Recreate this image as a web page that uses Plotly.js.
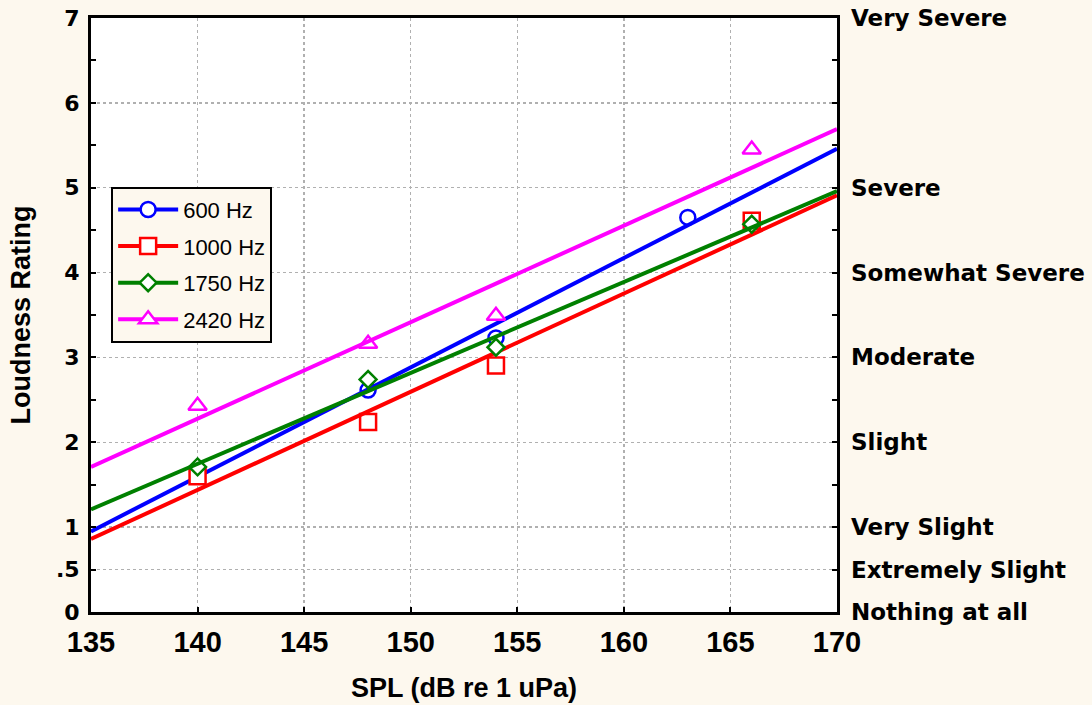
<!DOCTYPE html>
<html>
<head>
<meta charset="utf-8">
<script src="https://cdn.plot.ly/plotly-3.0.1.min.js"></script>
<style>
  html, body { margin: 0; padding: 0; background: #fdf8ee; }
  #chart { width: 1092px; height: 705px; }
</style>
</head>
<body>
<div id="chart"></div>
<script>
// Loudness ratings by sound pressure level, one series per tone frequency
const seriesNames = ['600 Hz', '1000 Hz', '1750 Hz', '2420 Hz'];
const seriesColors = ['#0000ff', '#ff0000', '#008000', '#ff00ff'];
const seriesSymbols = ['circle', 'square', 'diamond', 'triangle-up'];
const seriesSizes = [15, 16, 13, 16];

const spl600 = [140, 148, 154, 163];
const rating600 = [1.66, 2.615, 3.23, 4.65];
const spl1000 = [140, 148, 154, 166];
const rating1000 = [1.60, 2.24, 2.905, 4.61];
const spl1750 = [140, 148, 154, 166];
const rating1750 = [1.71, 2.74, 3.12, 4.57];
const spl2420 = [140, 148, 154, 166];
const rating2420 = [2.43, 3.16, 3.49, 5.45];

// Linear fit lines, evaluated at the ends of the SPL axis
const fitSpl = [135, 170];
const fit600 = [0.95, 5.46];
const fit1000 = [0.86, 4.91];
const fit1750 = [1.21, 4.96];
const fit2420 = [1.71, 5.69];

// Axis ticks and rating scale
const splTicks = [135, 140, 145, 150, 155, 160, 165, 170];
const ratingTicks = [0, 0.5, 1, 2, 3, 4, 5, 6, 7];
const ratingTickText = ['0', '.5', '1', '2', '3', '4', '5', '6', '7'];
const ratingMinorTicks = [1.5, 2.5, 3.5, 4.5, 5.5, 6.5];
const scaleTicks = [0, 0.5, 1, 2, 3, 4, 5, 7];
const scaleLabels = ['Nothing at all', 'Extremely Slight', 'Very Slight', 'Slight',
                     'Moderate', 'Somewhat Severe', 'Severe', 'Very Severe'];
const scaleMinorTicks = [1.5, 2.5, 3.5, 4.5, 5.5, 6, 6.5];

const pointSets = [[spl600, rating600], [spl1000, rating1000], [spl1750, rating1750], [spl2420, rating2420]];
const fitSets = [fit600, fit1000, fit1750, fit2420];

const titleBold = { family: 'Liberation Sans, Arial, sans-serif', weight: 'bold', color: '#000' };
const wideBold = { family: 'DejaVu Sans, Verdana, sans-serif', weight: 'bold', color: '#000' };

const traces = [];
seriesNames.forEach((name, i) => {
  traces.push({
    x: pointSets[i][0], y: pointSets[i][1],
    type: 'scatter', mode: 'markers', showlegend: false, hoverinfo: 'x+y',
    marker: { symbol: seriesSymbols[i], size: seriesSizes[i], color: '#ffffff',
              line: { color: seriesColors[i], width: 2.5 } }
  });
  traces.push({
    x: fitSpl, y: fitSets[i],
    type: 'scatter', mode: 'lines', showlegend: false, hoverinfo: 'skip',
    line: { color: seriesColors[i], width: 4 }
  });
});
// legend entries
seriesNames.forEach((name, i) => {
  traces.push({
    x: [null], y: [null], name: name, legendgroup: name,
    type: 'scatter', mode: 'lines+markers',
    line: { color: seriesColors[i], width: 4 },
    marker: { symbol: seriesSymbols[i], size: seriesSizes[i], color: '#ffffff',
              line: { color: seriesColors[i], width: 2.5 } }
  });
});
// carrier for the right-hand rating scale
traces.push({ x: [null], y: [null], yaxis: 'y2', type: 'scatter', mode: 'markers', showlegend: false, hoverinfo: 'skip' });

const layout = {
  width: 1092, height: 705,
  paper_bgcolor: '#fdf8ee',
  plot_bgcolor: '#ffffff',
  margin: { l: 91, r: 255, t: 18, b: 93 },
  showlegend: true,
  legend: {
    x: 0.027, y: 0.716, xanchor: 'left', yanchor: 'top',
    bgcolor: '#fdf8ee', bordercolor: '#000', borderwidth: 2,
    font: { family: 'Liberation Sans, Arial, sans-serif', size: 22, color: '#000' },
    traceorder: 'grouped', tracegroupgap: 5, itemwidth: 60
  },
  xaxis: {
    range: [135, 170], tickmode: 'array', tickvals: splTicks,
    ticks: 'inside', ticklen: 5, tickwidth: 2, tickcolor: '#000',
    showline: true, linewidth: 3, linecolor: '#000', mirror: true,
    showgrid: true, gridcolor: '#b0b0b0', griddash: 'dot', gridwidth: 1.5,
    zeroline: false,
    tickfont: Object.assign({ size: 29 }, titleBold),
    ticklabelstandoff: 2,
    title: { text: 'SPL (dB re 1 uPa)', font: Object.assign({ size: 27 }, titleBold), standoff: 22 }
  },
  yaxis: {
    range: [0, 7], tickmode: 'array', tickvals: ratingTicks, ticktext: ratingTickText,
    ticks: 'inside', ticklen: 5, tickwidth: 2, tickcolor: '#000',
    minor: { tickmode: 'array', tickvals: ratingMinorTicks, ticks: 'inside', ticklen: 5, tickwidth: 2, tickcolor: '#000', showgrid: false },
    showline: true, linewidth: 3, linecolor: '#000', mirror: true,
    showgrid: true, gridcolor: '#b0b0b0', griddash: 'dot', gridwidth: 1.5,
    zeroline: false,
    tickfont: Object.assign({ size: 22 }, wideBold),
    ticklabelstandoff: 4,
    title: { text: 'Loudness Rating', font: Object.assign({ size: 27 }, titleBold), standoff: 18 }
  },
  yaxis2: {
    overlaying: 'y', side: 'right', range: [0, 7],
    tickmode: 'array', tickvals: scaleTicks, ticktext: scaleLabels,
    ticks: 'inside', ticklen: 5, tickwidth: 2, tickcolor: '#000',
    minor: { tickmode: 'array', tickvals: scaleMinorTicks, ticks: 'inside', ticklen: 5, tickwidth: 2, tickcolor: '#000', showgrid: false },
    showline: false, showgrid: false, zeroline: false,
    tickfont: Object.assign({ size: 23 }, wideBold),
    ticklabelstandoff: 13
  }
};

Plotly.newPlot('chart', traces, layout, { displayModeBar: false, staticPlot: true });
</script>
</body>
</html>
